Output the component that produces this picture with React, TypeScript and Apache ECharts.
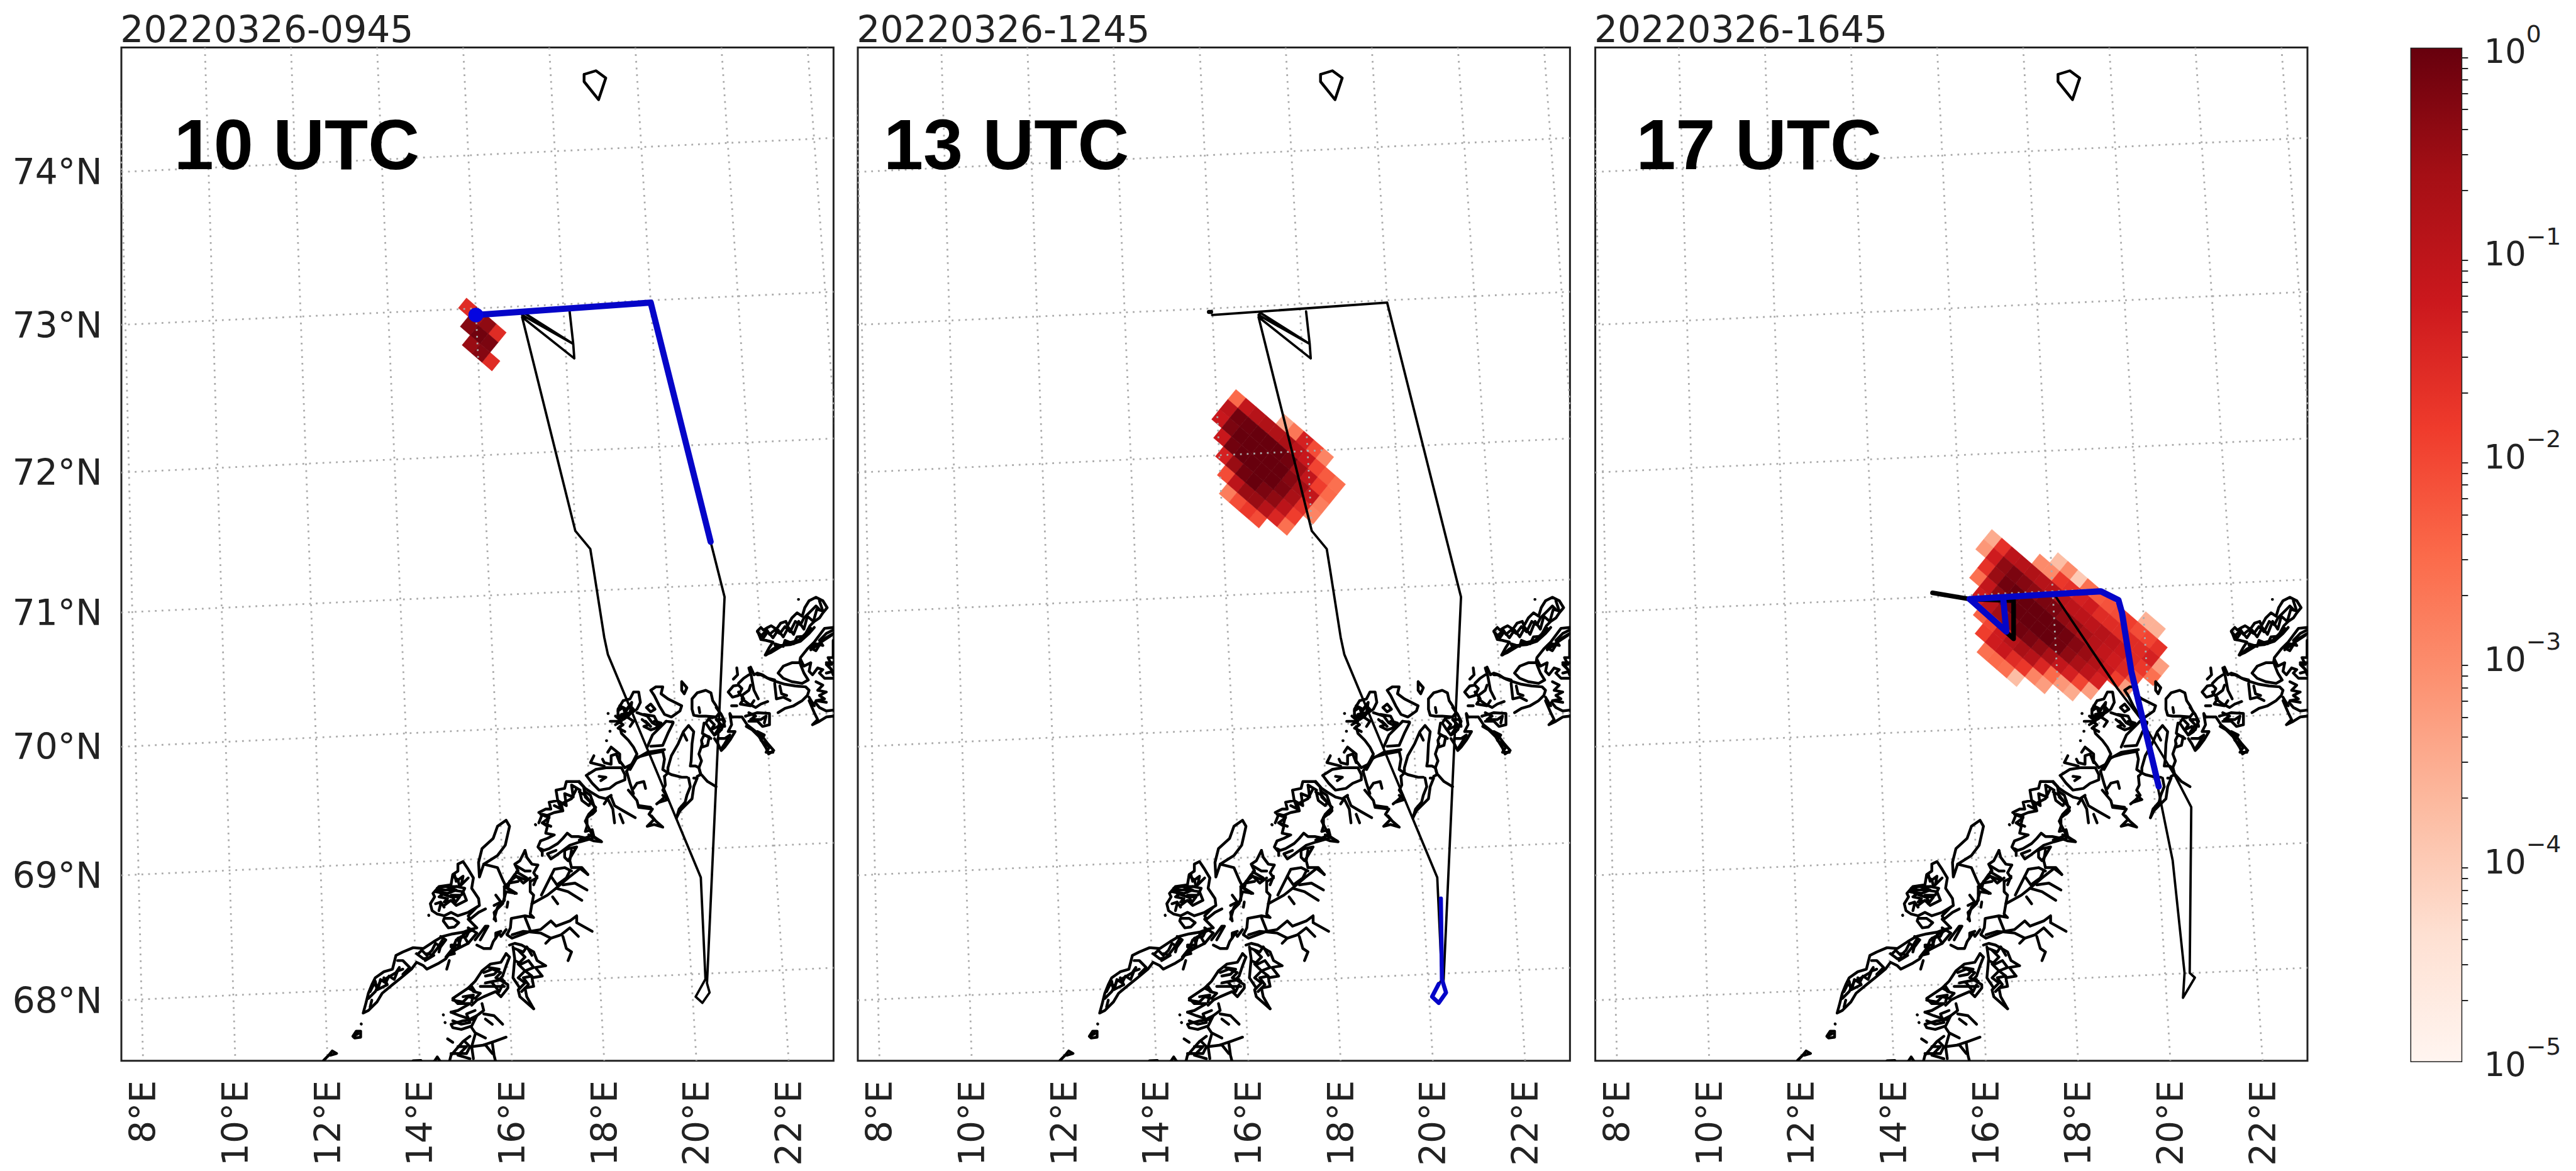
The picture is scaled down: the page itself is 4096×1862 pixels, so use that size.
import React, { useEffect, useRef } from "react";
import * as echarts from "echarts";

type Pt = number[];
const k = 4096 / 4988;
const px = (v: number) => v * k;

const panelTitles = ["20220326-0945", "20220326-1245", "20220326-1645"];
const panelHours = ["10 UTC", "13 UTC", "17 UTC"];
const hourLeft = [337, 1711, 3168];
const panelLeft = [235, 1661, 3089];
const planeX = [235, 1614];
const planeY = [92, 2054];

const lonTicks = [8, 10, 12, 14, 16, 18, 20, 22];
const lonGrid = [8, 10, 12, 14, 16, 18, 20, 22, 24];
const latTicks = [74, 73, 72, 71, 70, 69, 68];
const latAtLeftEdge = [333, 629, 915, 1186, 1446, 1695, 1937];
const latAtRightEdge = [267, 565, 849, 1122, 1381, 1632, 1874];
const meridianBottom = (lon: number) => 277 + (lon - 8) * 89.3;
const meridianTop = (lon: number) => 230 + (lon - 8) * 83.35;

const colorbarExponents = [0, -1, -2, -3, -4, -5];
const redsStops = ["#67000d", "#a50f15", "#cb181d", "#ef3b2c", "#fb6a4a", "#fc9272", "#fcbba1", "#fee0d2", "#fff5f0"];

// Dispersion cells: log10 concentration on a rotated lattice.
const latticeU = [19.3, 16.7];
const latticeV = [-15.7, 19.3];
const plumeOrigin1 = [905, 595];
const plumeOrigin2 = [969, 772];
const plumeOrigin3 = [1004.6, 1043];
const plumeRows1 = [
  { j: 0, i0: 0, v: [-1.6, -0.6, -0.4, -1.6] },
  { j: 1, i0: 1, v: [-0.3, -0.1, -0.2] },
  { j: 2, i0: 2, v: [-0.5, -0.3, -1.6] },
];
const plumeRows2 = [
  { j: -1, i0: 4, v: [-3.4, -2.7, -1.4, -2.1, -2.9] },
  { j: 0, i0: 0, v: [-2.5, -1.1, -0.9, -0.8, -0.8, -0.7, -1.0, -1.2, -2.0, -2.3, -2.6] },
  { j: 1, i0: 0, v: [-1.0, -0.1, -0.05, 0, 0, 0, -0.1, -0.6, -1.1, -1.9, -2.5] },
  { j: 2, i0: 0, v: [-1.2, -0.2, 0, 0, 0, 0, 0, -0.3, -0.6, -1.1, -2.8] },
  { j: 3, i0: 1, v: [-1.2, -0.1, 0, 0, 0, 0, -0.2, -0.7, -1.6, -2.9] },
  { j: 4, i0: 2, v: [-1.4, -0.5, -0.1, 0, -0.2, -0.4, -1.0, -1.9] },
  { j: 5, i0: 3, v: [-2.1, -1.0, -0.5, -0.5, -0.9, -1.5, -2.6] },
  { j: 6, i0: 4, v: [-2.8, -2.1, -1.8, -2.1] },
];
const plumeRows3 = [
  { j: -3, i0: 13, v: [-3.6, -3.6] },
  { j: -2, i0: 5, v: [-3.8, -3.0, -4.0, -2.6, -2.3, -2.2, -2.1, -1.9, -2.1, -2.0, -1.7] },
  { j: -1, i0: 4, v: [-3.0, -3.0, -1.8, -1.7, -1.4, -1.3, -1.6, -1.6, -1.6, -1.6, -1.6, -1.4, -3.3] },
  { j: 0, i0: 0, v: [-3.5, -1.7, -1.0, -0.9, -0.8, -0.9, -0.9, -0.9, -1.0, -1.0, -1.0, -0.9, -1.0, -1.2, -1.6, -1.8, -2.6] },
  { j: 1, i0: 0, v: [-3.2, -1.3, -0.4, -0.2, -0.3, -0.4, -0.2, -0.2, -0.4, -0.5, -0.7, -0.9, -1.1, -1.3, -1.5, -2.2] },
  { j: 2, i0: 1, v: [-1.7, -0.5, -0.1, 0, 0, 0, 0, 0, -0.1, -0.3, -0.5, -0.8, -1.2, -1.9, -3.3] },
  { j: 3, i0: 1, v: [-2.6, -1.1, -0.4, -0.1, 0, 0, 0, 0, -0.1, -0.4, -0.7, -1.0, -1.4] },
  { j: 4, i0: 2, v: [-1.3, -1.0, -0.6, -0.3, -0.1, -0.2, -0.4, -0.7, -1.1, -1.4, -2.0, -3.3] },
  { j: 5, i0: 3, v: [-2.4, -2.0, -1.3, -0.9, -0.7, -0.9, -1.5, -2.5, -3.2, -3.5] },
  { j: 6, i0: 4, v: [-1.9, -1.3, -1.2, -1.6, -1.8, -2.9, -3.3] },
  { j: 7, i0: 5, v: [-2.6, -2.5, -2.6, -3.8] },
];

// Flight tracks in the map plane.
const trackFull: Pt[] = [[921, 610], [1260, 586], [1376, 1049], [1403, 1156], [1369, 1904], [1374, 1922], [1360, 1942], [1347, 1930], [1366, 1896], [1357, 1699], [1177, 1267], [1170, 1234], [1149, 1100], [1143, 1063], [1114, 1028], [1011, 614], [1112, 694], [1110, 666], [1011, 610], [1015, 606], [1110, 666], [1103, 603]];
const track1Blue: Pt[] = [[921, 610], [1260, 586], [1376, 1049]];
const track1Start: Pt[] = [[921, 610], [922, 610]];
const track2Blue: Pt[] = [[1364, 1740], [1366, 1896], [1374, 1922], [1360, 1942], [1347, 1930], [1360, 1905]];
const track2Start: Pt[] = [[915, 604], [919, 604]];
const track3Black: Pt[] = [[888, 1148], [960, 1160], [1045, 1163], [1045, 1237], [960, 1160]];
const track3Leg: Pt[] = [[1125, 1153], [1246, 1333], [1289, 1389], [1359, 1505], [1389, 1563], [1386, 1884], [1396, 1893], [1373, 1932], [1376, 1884], [1353, 1666], [1324, 1523]];
const track3Blue: Pt[] = [[960, 1160], [1214, 1145], [1248, 1162], [1255, 1187], [1273, 1300], [1326, 1523]];
const track3BlueLoop: Pt[] = [[960, 1160], [1031, 1223], [1025, 1160]];

// Coastline, traced in three map sheets.
const islandNorth: Pt[][] = [[[1131, 144], [1154, 137], [1173, 151], [1159, 193], [1131, 158], [1131, 144]]];
const coastSheetA: Pt[][] = [
  [[1040, 245], [1060, 225], [1075, 240], [1100, 225], [1120, 215], [1150, 235], [1175, 200], [1205, 190], [1215, 215], [1240, 170], [1270, 140], [1300, 160], [1315, 110], [1340, 70], [1380, 50], [1420, 70], [1445, 110], [1420, 140], [1400, 170], [1370, 190], [1345, 215], [1320, 260], [1280, 300], [1240, 310], [1200, 320], [1170, 340], [1120, 370], [1085, 385], [1110, 340], [1130, 310], [1090, 300], [1060, 295], [1050, 270], [1040, 245]],
  [[1060, 275], [1095, 240], [1110, 265], [1140, 240], [1170, 260], [1200, 220], [1230, 250], [1260, 190], [1290, 210], [1310, 170], [1350, 130], [1380, 100], [1400, 120]],
  [[1040, 250], [1075, 285], [1100, 250], [1130, 285], [1160, 240], [1190, 280], [1220, 225], [1250, 265], [1280, 190], [1310, 235], [1330, 160], [1365, 190], [1385, 120], [1420, 130], [1400, 70]],
  [[1100, 375], [1150, 345], [1140, 320], [1190, 335], [1200, 300], [1250, 320], [1270, 280], [1320, 275], [1350, 230]],
  [[1090, 385], [1130, 350], [1170, 330], [1230, 325], [1290, 305], [1340, 260], [1370, 225]],
  [[1278, 62], [1279, 62]],
  [[1480, 225], [1430, 230], [1400, 270], [1370, 310], [1330, 350], [1290, 400], [1285, 430], [1240, 430], [1190, 450], [1160, 490], [1190, 520], [1240, 540], [1300, 550], [1335, 530], [1310, 490], [1290, 440]],
  [[1480, 260], [1430, 290], [1385, 330], [1350, 355]],
  [[1480, 240], [1440, 260], [1400, 300], [1420, 330], [1380, 320], [1350, 345], [1380, 360], [1410, 310], [1470, 270]],
  [[1480, 300], [1480, 400], [1450, 400], [1470, 440], [1440, 440], [1480, 480], [1440, 490]],
  [[1160, 720], [1200, 695], [1250, 680], [1300, 650], [1330, 620], [1340, 590], [1320, 570], [1260, 565], [1200, 555], [1150, 540], [1110, 525], [1060, 500], [1040, 500]],
  [[1140, 550], [1150, 640], [1190, 630], [1230, 650]],
  [[1170, 565], [1180, 610], [1210, 620]],
  [[1340, 630], [1370, 680], [1340, 650], [1370, 720], [1390, 760], [1360, 790], [1400, 770], [1440, 745], [1480, 740]],
  [[1375, 660], [1400, 690], [1440, 710], [1480, 705]],
  [[1480, 520], [1430, 520], [1400, 490], [1420, 470], [1390, 460], [1360, 500], [1340, 480], [1350, 430], [1310, 450], [1290, 410]],
  [[1380, 540], [1420, 560], [1390, 590], [1440, 600], [1400, 620], [1430, 640], [1380, 650], [1440, 660]],
  [[1480, 430], [1440, 430], [1470, 470], [1480, 500]],
  [[870, 600], [895, 630], [930, 620], [950, 580], [930, 560], [900, 565], [870, 600]],
  [[930, 550], [960, 520], [990, 500]],
  [[920, 460], [925, 500], [900, 525]],
  [[990, 460], [1005, 510], [1020, 590], [1045, 640]],
  [[1000, 455], [1020, 500], [1040, 490], [1070, 500], [1100, 520], [1140, 530]],
  [[950, 640], [990, 670], [1030, 690], [1060, 670], [1100, 655]],
  [[930, 600], [960, 640], [940, 670], [1000, 680], [1020, 650]],
  [[890, 680], [920, 680]],
  [[960, 640], [950, 620], [990, 590], [1000, 560]],
  [[880, 725], [890, 745], [950, 745], [980, 790], [1030, 830], [1070, 860], [1100, 900], [1135, 940], [1105, 960], [1090, 925], [1050, 860], [1010, 820], [975, 800]],
  [[1040, 830], [1080, 850], [1060, 880], [1110, 920], [1090, 950], [1130, 950]],
  [[970, 740], [1010, 730], [1040, 720], [1110, 725], [1110, 790], [1070, 800], [1040, 770], [990, 770]],
  [[990, 720], [1030, 740], [1000, 760], [1060, 760], [1090, 740], [1080, 780]],
  [[660, 640], [690, 605], [740, 590], [770, 605], [780, 650], [800, 680], [820, 720], [800, 745], [740, 740], [700, 740], [670, 735], [660, 700], [660, 640]],
  [[700, 690], [705, 720]],
  [[800, 690], [830, 730], [850, 770], [830, 820], [790, 850], [760, 810], [740, 780], [760, 750], [800, 745]],
  [[760, 760], [790, 790], [770, 820], [810, 800], [820, 830], [790, 850], [830, 790], [800, 760], [840, 760], [850, 800]],
  [[730, 780], [720, 840], [770, 870]],
  [[715, 880], [730, 850], [760, 860], [750, 910], [720, 920], [715, 880]],
  [[880, 730], [890, 790], [870, 830], [910, 830], [880, 880], [850, 920], [830, 940], [810, 900], [790, 870]],
  [[810, 870], [850, 870], [880, 850], [850, 900], [830, 930]],
  [[640, 795], [670, 830], [660, 900], [655, 1000], [650, 1030], [680, 1030], [700, 1040], [710, 1080], [690, 1090]],
  [[640, 795], [610, 830], [580, 900], [540, 970], [520, 1040], [520, 1070], [540, 1080], [600, 1095], [630, 1095]],
  [[610, 840], [630, 880]],
  [[720, 900], [700, 960], [715, 1000], [700, 1040], [710, 1075], [750, 1120], [800, 1150]],
  [[670, 1100], [690, 1100], [670, 1150], [660, 1220], [620, 1260], [590, 1290], [570, 1330]],
  [[640, 1100], [650, 1150], [630, 1200], [620, 1240], [585, 1280], [570, 1330]],
  [[500, 1090], [505, 1140], [490, 1170], [510, 1200], [480, 1230], [455, 1250]],
  [[490, 1200], [520, 1225], [470, 1240]],
  [[280, 1060], [330, 990], [400, 950], [500, 935]],
  [[300, 1050], [340, 980], [410, 960], [490, 945], [500, 990], [490, 1050], [520, 1070], [500, 1090]],
  [[510, 770], [430, 850], [400, 920]],
  [[550, 780], [520, 840], [490, 910], [420, 915]],
  [[510, 770], [550, 775]],
  [[280, 1060], [300, 1130], [320, 1190]],
  [[290, 1170], [340, 1230], [350, 1270], [430, 1280], [410, 1310], [440, 1340], [400, 1380], [440, 1370], [490, 1385], [450, 1350], [425, 1320]],
  [[350, 1260], [420, 1270]],
  [[320, 1160], [340, 1130], [380, 1120], [390, 1160]],
  [[420, 590], [450, 570], [490, 570], [480, 610], [520, 640], [560, 660], [600, 680], [590, 710], [540, 745], [500, 730], [470, 680], [440, 620], [420, 590]],
  [[395, 690], [420, 670], [445, 700], [420, 715], [395, 690]],
  [[600, 540], [630, 575], [615, 610], [600, 590], [600, 540]],
  [[260, 650], [300, 640], [320, 600], [350, 600], [360, 660], [340, 700], [310, 720], [270, 740], [230, 750], [230, 700], [260, 650]],
  [[240, 680], [280, 700], [310, 660], [300, 720], [250, 730], [290, 750], [320, 770], [300, 800]],
  [[230, 710], [260, 690], [270, 720], [300, 680], [320, 700], [290, 740], [260, 760], [230, 730]],
  [[190, 770], [230, 770], [260, 790], [230, 810], [270, 830]],
  [[215, 740], [250, 770], [215, 790]],
  [[340, 720], [400, 740], [430, 780], [470, 800], [440, 740], [380, 730]],
  [[370, 760], [410, 790], [380, 800], [420, 820], [450, 810], [480, 780], [440, 770]],
  [[390, 770], [420, 800]],
  [[172, 725], [173, 725]],
  [[185, 770], [186, 770]],
  [[183, 828], [184, 828]],
  [[163, 883], [164, 883]],
  [[240, 800], [250, 840], [290, 880], [320, 920], [340, 960], [310, 1020], [270, 1040], [240, 1000], [240, 960], [190, 920], [170, 950]],
  [[140, 990], [150, 1010], [190, 1020], [190, 970], [220, 960], [240, 1010]],
  [[90, 970], [70, 1010], [110, 1020], [150, 1030]],
  [[45, 1085], [100, 1050], [160, 1040], [250, 1040], [270, 1080], [270, 1110], [220, 1130], [180, 1160], [120, 1170], [80, 1130], [50, 1090]],
  [[120, 1090], [160, 1095], [130, 1115]],
  [[5, 1120], [40, 1160], [70, 1180], [120, 1210], [160, 1220], [190, 1200]],
  [[5, 1180], [40, 1200], [70, 1240], [100, 1270], [60, 1310], [40, 1350], [60, 1390], [80, 1430], [60, 1440], [5, 1460]],
  [[190, 1210], [210, 1260], [260, 1290], [330, 1330]],
  [[150, 1250], [170, 1220], [200, 1280], [210, 1360]],
  [[240, 1310], [260, 1360]],
  [[60, 1430], [130, 1465]],
  [[100, 1270], [90, 1300], [50, 1330]],
];
const coastSheetB: Pt[][] = [
  [[550, 580], [590, 560], [620, 560], [610, 520], [660, 510], [650, 450], [700, 440], [710, 400], [780, 400], [810, 430]],
  [[590, 600], [640, 580], [690, 570], [680, 530], [740, 500], [770, 440]],
  [[640, 540], [680, 560], [660, 510], [710, 540], [700, 470], [750, 490], [740, 420], [790, 450]],
  [[550, 640], [570, 590], [610, 600], [600, 640]],
  [[560, 590], [610, 610], [570, 640], [620, 660]],
  [[530, 650], [532, 652]],
  [[570, 640], [600, 660], [590, 700], [640, 710], [600, 730], [560, 745], [545, 780], [570, 810], [570, 830]],
  [[810, 430], [820, 490], [840, 510]],
  [[790, 470], [800, 510], [840, 540], [860, 510], [850, 480], [820, 460]],
  [[860, 570], [830, 610], [830, 660], [820, 690], [860, 680], [870, 720], [915, 750], [870, 745], [830, 730], [780, 720], [740, 720], [715, 700], [690, 730], [660, 760], [610, 790], [580, 800], [560, 790]],
  [[860, 730], [790, 750], [730, 770], [690, 800], [650, 830], [620, 850], [600, 820], [650, 800]],
  [[700, 800], [720, 790], [770, 780], [740, 830], [720, 860], [700, 840], [700, 800]],
  [[740, 800], [730, 860], [740, 900]],
  [[860, 510], [880, 570], [860, 590]],
  [[470, 800], [480, 840], [510, 880], [545, 885], [520, 930], [540, 960], [500, 980]],
  [[470, 800], [440, 860], [410, 880], [430, 920], [410, 940], [375, 990], [430, 980]],
  [[420, 890], [470, 920], [500, 920]],
  [[420, 925], [480, 960]],
  [[420, 950], [460, 990], [500, 960]],
  [[520, 1000], [540, 950]],
  [[375, 990], [350, 1010], [410, 1050]],
  [[350, 1010], [350, 1090], [310, 1130], [290, 1200]],
  [[300, 1060], [330, 1100], [290, 1120]],
  [[370, 1100], [365, 1130]],
  [[500, 980], [500, 1040], [520, 1060], [510, 1110], [500, 1170], [520, 1190], [470, 1180], [390, 1195], [385, 1250], [365, 1290], [395, 1310], [500, 1270], [560, 1260], [620, 1210], [650, 1240], [730, 1210], [770, 1180], [770, 1220], [860, 1270]],
  [[395, 1290], [460, 1270], [560, 1280], [620, 1310], [680, 1290], [730, 1250], [780, 1300]],
  [[690, 1300], [710, 1370], [740, 1390], [720, 1440]],
  [[590, 1340], [620, 1310]],
  [[470, 1190], [490, 1240], [500, 1265]],
  [[510, 1110], [600, 1060], [650, 1020], [720, 960], [790, 905], [835, 940]],
  [[565, 1060], [620, 950], [640, 910], [700, 900], [740, 920]],
  [[620, 950], [655, 1000], [710, 960], [730, 920]],
  [[650, 1020], [720, 1040], [800, 1090]],
  [[690, 1000], [760, 990], [830, 1030]],
  [[630, 1070], [660, 1110]],
  [[740, 900], [800, 900], [835, 940]],
];
const coastSheetC: Pt[][] = [
  [[1080, 85], [1030, 120], [1005, 190], [940, 250], [920, 330], [925, 415], [950, 340], [1030, 290], [1075, 230], [1100, 120], [1080, 85]],
  [[950, 340], [1030, 360], [1060, 430], [1080, 470]],
  [[800, 340], [830, 325], [860, 370], [890, 420], [880, 480], [920, 540], [925, 580], [860, 620], [800, 640], [760, 620], [720, 640], [680, 630], [650, 610], [640, 570], [665, 530], [655, 510], [690, 470], [760, 460], [770, 400], [800, 380], [800, 340]],
  [[680, 490], [760, 490], [830, 500], [850, 550], [790, 580], [760, 550], [720, 580]],
  [[670, 500], [720, 510], [690, 530], [740, 540], [720, 560], [780, 550], [760, 520], [820, 520], [840, 480], [790, 470]],
  [[780, 400], [790, 440], [830, 410], [820, 460], [860, 420]],
  [[700, 510], [760, 530], [810, 530], [780, 570]],
  [[770, 410], [800, 430], [810, 470], [760, 470]],
  [[670, 570], [700, 560], [720, 590]],
  [[690, 610], [700, 570]],
  [[680, 480], [730, 470], [790, 490], [740, 510], [690, 500]],
  [[630, 636], [631, 638]],
  [[720, 655], [770, 655], [805, 680], [780, 705], [745, 710], [715, 670], [720, 655]],
  [[860, 660], [880, 680], [910, 710], [870, 720], [830, 735], [770, 745], [710, 760], [660, 790], [600, 830], [540, 825], [480, 850], [440, 870], [430, 910], [420, 950], [370, 965], [320, 1000], [300, 1040], [280, 1090], [265, 1150], [250, 1205], [280, 1190], [330, 1140], [360, 1090], [420, 1040], [470, 1000], [530, 950], [560, 910], [600, 930], [620, 950], [690, 915], [730, 890], [750, 860], [800, 830], [860, 800], [910, 740], [860, 710]],
  [[560, 860], [600, 890], [640, 880], [680, 830], [710, 780], [690, 850]],
  [[570, 860], [590, 840], [620, 870], [650, 840], [670, 800], [700, 820], [730, 780], [700, 760]],
  [[610, 900], [660, 870], [620, 860]],
  [[730, 880], [770, 830], [790, 780], [820, 760], [800, 830], [760, 820]],
  [[740, 870], [780, 860], [760, 810], [810, 810], [800, 770], [850, 760], [870, 720]],
  [[280, 1120], [320, 1080], [350, 1020], [390, 1000], [440, 970], [460, 940]],
  [[290, 1080], [310, 1040], [340, 1050], [350, 1010], [380, 1030], [400, 990], [430, 1010], [450, 960], [480, 950]],
  [[290, 1170], [300, 1130]],
  [[320, 1020], [330, 1070], [390, 1040], [370, 1000]],
  [[750, 900], [735, 950]],
  [[450, 900], [480, 900], [520, 940], [480, 980]],
  [[860, 800], [830, 750], [890, 720]],
  [[238, 1268], [239, 1269]],
  [[190, 1340], [210, 1310], [235, 1310], [235, 1345], [200, 1350], [190, 1340], [220, 1325]],
  [[20, 1480], [50, 1450], [70, 1425], [95, 1440], [60, 1450]],
  [[910, 810], [950, 830], [990, 830], [1005, 790], [1040, 740], [1050, 760], [1080, 720]],
  [[930, 780], [975, 700], [960, 700], [900, 780]],
  [[1020, 670], [1010, 620], [1060, 570], [1080, 500], [1140, 510], [1090, 480], [1100, 440], [1140, 410], [1190, 430]],
  [[1020, 770], [1020, 740], [1050, 730]],
  [[910, 590], [860, 640], [870, 660], [920, 620], [960, 600]],
  [[1100, 810], [1130, 800], [1170, 810], [1240, 850], [1260, 900], [1310, 930], [1250, 940], [1290, 990], [1230, 1000], [1240, 1050], [1190, 1060], [1200, 1110], [1240, 1180]],
  [[1130, 830], [1180, 850], [1200, 820], [1230, 870]],
  [[1130, 900], [1170, 920], [1210, 900], [1240, 940], [1190, 960], [1230, 990], [1180, 1000], [1210, 1040], [1170, 1080]],
  [[1150, 840], [1190, 880], [1150, 920], [1190, 960], [1150, 1000], [1190, 1030], [1150, 1070], [1160, 1110], [1240, 1180]],
  [[1120, 820], [1130, 890], [1120, 1000], [1160, 1060]],
  [[1080, 860], [1050, 910], [990, 920], [940, 960], [900, 1020], [860, 1060], [900, 1080], [880, 1050]],
  [[1080, 860], [1100, 880], [1080, 930], [1060, 990], [1040, 1010], [1090, 1040], [1090, 1060], [1050, 1110], [1020, 1080], [950, 1110], [910, 1130], [880, 1160]],
  [[950, 970], [1000, 950], [1050, 970], [1020, 1000], [1070, 1020]],
  [[1000, 1030], [1040, 1080], [1060, 1040]],
  [[960, 1030], [1060, 1010]],
  [[930, 1050], [1030, 1050], [1070, 1050]],
  [[980, 940], [1040, 950], [1010, 980], [960, 990]],
  [[860, 1060], [770, 1120], [800, 1150], [870, 1150], [800, 1190], [760, 1200]],
  [[770, 1130], [830, 1140], [860, 1110], [900, 1120], [930, 1090], [890, 1080]],
  [[830, 1110], [890, 1100], [880, 1140]],
  [[940, 1150], [950, 1190], [910, 1220], [870, 1240], [810, 1220], [760, 1200]],
  [[770, 1250], [820, 1270], [870, 1260], [850, 1210], [900, 1190]],
  [[910, 1220], [880, 1280], [820, 1300], [770, 1290], [760, 1270], [830, 1250], [900, 1240]],
  [[950, 1210], [1010, 1220], [1060, 1270]],
  [[960, 1240], [1000, 1270]],
  [[880, 1290], [900, 1320], [960, 1350]],
  [[870, 1340], [830, 1370], [760, 1450], [750, 1490]],
  [[800, 1400], [850, 1400], [800, 1450], [870, 1470]],
  [[900, 1330], [880, 1400], [890, 1470]],
  [[950, 1390], [1010, 1370], [1080, 1345]],
  [[1000, 1380], [1010, 1450], [1020, 1490]],
  [[760, 1440], [850, 1440], [870, 1400], [840, 1370]],
  [[880, 1400], [960, 1390], [1000, 1440]],
  [[740, 1355], [770, 1375]],
  [[715, 1215], [716, 1216]],
  [[725, 1260], [726, 1261]],
  [[660, 1490], [680, 1460], [700, 1490]],
  [[540, 1482], [585, 1480]],
];

const sheet = (ox: number, oy: number, lines: Pt[][]) =>
  lines.map((l) => l.map(([x, y]) => [ox + x / 3, oy + y / 3]));
const coastLines: Pt[][] = [
  ...islandNorth,
  ...sheet(1120, 1140, coastSheetA),
  ...sheet(860, 1380, coastSheetB),
  ...sheet(620, 1560, coastSheetC),
];
const meridianLines: Pt[][] = lonGrid.map((lon) => [[meridianTop(lon), planeY[0]], [meridianBottom(lon), planeY[1]]]);
const parallelLines: Pt[][] = latTicks.map((_, i) => [[planeX[0], latAtLeftEdge[i]], [planeX[1], latAtRightEdge[i]]]);

const hexToRgb = (h: string) => [1, 3, 5].map((i) => parseInt(h.slice(i, i + 2), 16));
const redsColor = (logValue: number) => {
  const t = Math.min(1, Math.max(0, -logValue / 5)) * (redsStops.length - 1);
  const a = Math.floor(t);
  const b = Math.min(redsStops.length - 1, a + 1);
  const ca = hexToRgb(redsStops[a]);
  const cb = hexToRgb(redsStops[b]);
  const c = ca.map((v, n) => Math.round(v + (cb[n] - v) * (t - a)));
  return `rgb(${c[0]},${c[1]},${c[2]})`;
};

const polySeries = (g: number, lines: Pt[][], color: string, width: number, z: number, dash?: number[]) => ({
  type: "custom",
  coordinateSystem: "cartesian2d",
  xAxisIndex: g,
  yAxisIndex: g,
  clip: true,
  silent: true,
  z,
  data: lines.map((_, i) => [i]),
  renderItem: (_p: any, api: any) => {
    const points = lines[api.value(0)].map((q) => api.coord(q));
    return {
      type: "polyline",
      shape: { points },
      style: { fill: "none", stroke: color, lineWidth: width, lineDash: dash, lineCap: dash ? "butt" : "round", lineJoin: "round" },
    };
  },
});

const plumeSeries = (g: number, rows: { j: number; i0: number; v: number[] }[], origin: number[]) => {
  const cells = rows.flatMap((r) =>
    r.v.map((v, n) => {
      const i = r.i0 + n;
      return [origin[0] + i * latticeU[0] + r.j * latticeV[0], origin[1] + i * latticeU[1] + r.j * latticeV[1], v];
    })
  );
  return {
    type: "custom",
    coordinateSystem: "cartesian2d",
    xAxisIndex: g,
    yAxisIndex: g,
    clip: true,
    silent: true,
    z: 1,
    data: cells.slice().sort((a, b) => a[2] - b[2]),
    renderItem: (_p: any, api: any) => {
      const x = api.value(0);
      const y = api.value(1);
      const [ux, uy] = latticeU;
      const [vx, vy] = latticeV;
      const corners = [
        [x - (ux + vx) / 2, y - (uy + vy) / 2],
        [x + (ux - vx) / 2, y + (uy - vy) / 2],
        [x + (ux + vx) / 2, y + (uy + vy) / 2],
        [x - (ux - vx) / 2, y - (uy - vy) / 2],
      ].map((q) => api.coord(q));
      const color = redsColor(api.value(2));
      return { type: "polygon", shape: { points: corners }, style: { fill: color, stroke: color, lineWidth: 0.6 } };
    },
  };
};

const nearest = (list: number[], pos: number[], v: number) => {
  let best = 0;
  pos.forEach((p, i) => {
    if (Math.abs(p - v) < Math.abs(pos[best] - v)) best = i;
  });
  return list[best];
};

function buildOption() {
  const tickFont = { fontFamily: "DejaVu Sans", color: "#222" };
  const grid: any[] = panelLeft.map((l) => ({
    left: px(l),
    top: px(planeY[0]),
    width: px(planeX[1] - planeX[0]),
    height: px(planeY[1] - planeY[0]),
    show: true,
    borderColor: "#222",
    borderWidth: 3,
    backgroundColor: "#fff",
  }));
  grid.push({ left: px(4669), top: px(94), width: px(97), height: px(1961), show: true, borderColor: "#222", borderWidth: 3 });

  const lonPos = lonTicks.map(meridianBottom);
  const xAxis: any[] = panelLeft.map((_, g) => ({
    type: "value",
    gridIndex: g,
    min: planeX[0],
    max: planeX[1],
    splitLine: { show: false },
    axisLine: { show: false },
    axisTick: { show: false },
    axisLabel: {
      customValues: lonPos,
      rotate: 90,
      margin: px(38),
      fontSize: px(69),
      ...tickFont,
      formatter: (v: number) => `${nearest(lonTicks, lonPos, v)}°E`,
    },
  }));
  xAxis.push({ type: "value", gridIndex: 3, min: 0, max: 1, show: false });

  const yAxis: any[] = panelLeft.map((_, g) => ({
    type: "value",
    gridIndex: g,
    min: planeY[0],
    max: planeY[1],
    inverse: true,
    splitLine: { show: false },
    axisLine: { show: false },
    axisTick: { show: false },
    axisLabel: {
      show: g === 0,
      customValues: latAtLeftEdge,
      margin: px(37),
      fontSize: px(69),
      padding: [px(6), 0, 0, 0],
      ...tickFont,
      formatter: (v: number) => `${nearest(latTicks, latAtLeftEdge, v)}°N`,
    },
  }));
  yAxis.push({
    type: "value",
    gridIndex: 3,
    min: -5,
    max: 0,
    interval: 1,
    position: "right",
    splitLine: { show: false },
    axisLine: { show: false },
    axisTick: { show: true, length: px(23), lineStyle: { color: "#222", width: 2 } },
    axisLabel: {
      margin: px(44),
      padding: [0, 0, px(14), 0],
      formatter: (v: number) => `{b|10}{s|${v === 0 ? "0" : "\u2212" + Math.abs(v)}}`,
      rich: {
        b: { fontFamily: "DejaVu Sans", fontSize: px(64), color: "#222", lineHeight: px(90), verticalAlign: "bottom", padding: [0, 0, 0, 0] },
        s: { fontFamily: "DejaVu Sans", fontSize: px(46), color: "#222", lineHeight: px(90), verticalAlign: "top", padding: [0, 0, px(14), 0] },
      },
    },
  });
  const minorTicks = colorbarExponents.slice(1).flatMap((e) => [2, 3, 4, 5, 6, 7, 8, 9].map((m) => e + Math.log10(m)));
  yAxis.push({
    type: "value",
    gridIndex: 3,
    min: -5,
    max: 0,
    position: "right",
    splitLine: { show: false },
    axisLine: { show: false },
    axisLabel: { show: false },
    axisTick: { show: true, length: px(13), customValues: minorTicks, lineStyle: { color: "#222", width: 2 } },
  });

  const series: any[] = [];
  const rows = [plumeRows1, plumeRows2, plumeRows3];
  const origins = [plumeOrigin1, plumeOrigin2, plumeOrigin3];
  panelLeft.forEach((_, g) => {
    series.push(plumeSeries(g, rows[g], origins[g]));
    series.push(polySeries(g, [...meridianLines, ...parallelLines], "#aaaaaa", px(3.4), 2, [px(3.4), px(9.6)]));
    series.push(polySeries(g, coastLines, "#000", px(5.4), 3));
  });
  series.push(polySeries(0, [trackFull], "#000", px(4.6), 4));
  series.push(polySeries(0, [track1Blue], "#0505c8", px(12), 5));
  series.push(polySeries(0, [track1Start], "#0505e0", px(28), 5));
  series.push(polySeries(1, [trackFull], "#000", px(4.6), 4));
  series.push(polySeries(1, [track2Start], "#000", px(8), 4));
  series.push(polySeries(1, [track2Blue], "#0505c8", px(8), 5));
  series.push(polySeries(2, [track3Black], "#000", px(9), 4));
  series.push(polySeries(2, [track3Leg], "#000", px(4.6), 4));
  series.push(polySeries(2, [track3Blue, track3BlueLoop], "#0505c8", px(12), 5));
  series.push({
    type: "custom",
    coordinateSystem: "cartesian2d",
    xAxisIndex: 3,
    yAxisIndex: 3,
    silent: true,
    z: 1,
    data: [[0, 0]],
    renderItem: (_p: any, api: any) => {
      const a = api.coord([0, 0]);
      const b = api.coord([1, -5]);
      return {
        type: "rect",
        shape: { x: a[0], y: a[1], width: b[0] - a[0], height: b[1] - a[1] },
        style: {
          fill: new echarts.graphic.LinearGradient(0, 0, 0, 1, redsStops.map((c, i) => ({ offset: i / (redsStops.length - 1), color: c }))),
        },
      };
    },
  });

  const graphic: any[] = [];
  panelTitles.forEach((t, i) => {
    graphic.push({
      type: "text",
      x: px(panelLeft[i] - 2),
      y: px(57),
      z: 20,
      style: { text: t, fill: "#222", font: `${px(71)}px "DejaVu Sans"`, textAlign: "left", textVerticalAlign: "middle" },
    });
    graphic.push({
      type: "text",
      x: px(hourLeft[i]),
      y: px(279),
      z: 20,
      style: { text: panelHours[i], fill: "#000", font: `bold ${px(138)}px "Liberation Sans"`, textAlign: "left", textVerticalAlign: "middle" },
    });
  });

  return { animation: false, backgroundColor: "#fff", grid, xAxis, yAxis, series, graphic };
}

export default function App() {
  const ref = useRef<HTMLDivElement>(null);
  useEffect(() => {
    const chart = echarts.init(ref.current!, undefined, { renderer: "svg" });
    chart.setOption(buildOption() as any);
    return () => chart.dispose();
  }, []);
  return <div ref={ref} style={{ position: "fixed", left: 0, top: 0, width: 4096, height: 1862, background: "#fff" }} />;
}
